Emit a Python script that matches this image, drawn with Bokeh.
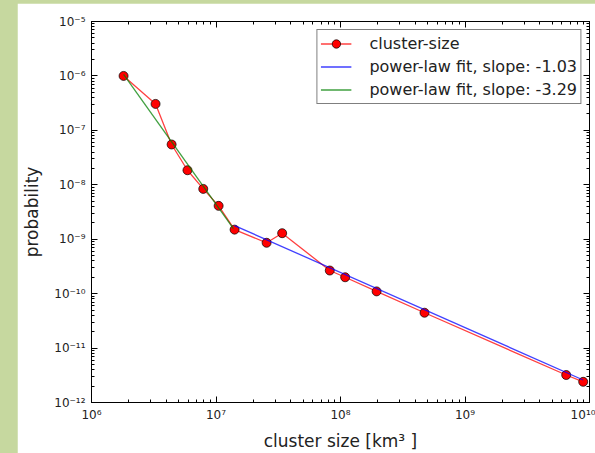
from bokeh.plotting import figure
from bokeh.models import LogAxis, FixedTicker, CustomJSTickFormatter, Range1d
from bokeh.layouts import column
from bokeh.embed import file_html
from bokeh.resources import INLINE

# ---- data ----
cluster_size = [1.81e6, 3.27e6, 4.4e6, 5.9e6, 7.9e6, 1.05e7, 1.41e7, 2.55e7, 3.4e7,
                8.2e7, 1.09e8, 1.95e8, 4.73e8, 6.5e9, 8.9e9]
probability = [1.0e-6, 3.06e-7, 5.5e-8, 1.85e-8, 8.4e-9, 4.1e-9, 1.5e-9, 8.6e-10, 1.29e-9,
               2.66e-10, 2.0e-10, 1.1e-10, 4.46e-11, 3.2e-12, 2.4e-12]
fit_steep_x = [1.81e6, 1.38e7]
fit_steep_y = [1.07e-6, 1.57e-9]
fit_flat_x = [1.41e7, 8.9e9]
fit_flat_y = [1.78e-9, 2.59e-12]

series_labels = ["cluster-size", "power-law fit, slope: -1.03", "power-law fit, slope: -3.29"]
x_tick_values = [1e6, 1e7, 1e8, 1e9, 1e10]
x_tick_labels = ["10⁶", "10⁷", "10⁸", "10⁹", "10¹⁰"]
y_tick_values = [1e-12, 1e-11, 1e-10, 1e-9, 1e-8, 1e-7, 1e-6, 1e-5]
y_tick_labels = ["10⁻¹²", "10⁻¹¹", "10⁻¹⁰", "10⁻⁹", "10⁻⁸", "10⁻⁷", "10⁻⁶", "10⁻⁵"]
x_label = "cluster size [km³ ]"
y_label = "probability"

FONT = "DejaVu Sans"


def minor_of(majors):
    out = []
    for m in majors[:-1]:
        out += [m * k for k in range(2, 10)]
    return out


def fmt(values, labels):
    return CustomJSTickFormatter(args=dict(values=values, labels=labels), code="""
        let best = 0, bd = 1e9;
        for (let i = 0; i < values.length; i++) {
            const d = Math.abs(Math.log10(tick) - Math.log10(values[i]));
            if (d < bd) { bd = d; best = i; }
        }
        return labels[best];
    """)


blank_fmt = CustomJSTickFormatter(code="return ' ';")

p = figure(x_axis_type="log", y_axis_type="log",
           x_range=Range1d(1e6, 1e10), y_range=Range1d(1e-12, 1e-5),
           width=578, height=450,
           min_border_left=74, min_border_right=6, min_border_top=18, min_border_bottom=47,
           output_backend="svg", toolbar_location=None, margin=(3, 0, 0, 17))

p.grid.visible = False
p.outline_line_color = "black"
p.background_fill_color = "white"
p.border_fill_color = "white"

xt = FixedTicker(ticks=x_tick_values, minor_ticks=minor_of(x_tick_values))
yt = FixedTicker(ticks=y_tick_values, minor_ticks=minor_of(y_tick_values))

p.xaxis.ticker = xt
p.yaxis.ticker = yt
p.xaxis.formatter = fmt(x_tick_values, x_tick_labels)
p.yaxis.formatter = fmt(y_tick_values, y_tick_labels)

for ax in [p.xaxis[0], p.yaxis[0]]:
    ax.major_tick_in = 6
    ax.major_tick_out = 0
    ax.minor_tick_in = 3
    ax.minor_tick_out = 0
    ax.axis_line_color = "black"
    ax.major_tick_line_color = "black"
    ax.minor_tick_line_color = "black"
    ax.major_label_text_font = FONT
    ax.major_label_text_font_size = "12px"
    ax.major_label_text_color = "#222222"
    ax.axis_label_text_font = FONT
    ax.axis_label_text_font_size = "17px"
    ax.axis_label_text_font_style = "normal"
    ax.axis_label_text_color = "#222222"

p.xaxis.axis_label = x_label
p.yaxis.axis_label = y_label
p.xaxis.major_label_standoff = 5
p.yaxis.major_label_standoff = 6
p.xaxis.axis_label_standoff = 6
p.yaxis.axis_label_standoff = 9

for loc, tk in [("above", xt), ("right", yt)]:
    ax = LogAxis(ticker=tk, formatter=blank_fmt,
                 major_tick_in=6, major_tick_out=0, minor_tick_in=3, minor_tick_out=0,
                 major_label_text_font_size="1px", major_label_standoff=0,
                 axis_line_color="black", major_tick_line_color="black",
                 minor_tick_line_color="black")
    p.add_layout(ax, loc)

# data
p.line(cluster_size, probability, line_color="red", line_width=1.3, line_alpha=0.75,
       legend_label=series_labels[0])
p.scatter(cluster_size, probability, size=9, fill_color="red", line_color="black",
          line_width=1, line_alpha=0.7, legend_label=series_labels[0])
p.line(fit_flat_x, fit_flat_y, line_color="blue", line_width=1.3, line_alpha=0.75,
       legend_label=series_labels[1])
p.line(fit_steep_x, fit_steep_y, line_color="green", line_width=1.3, line_alpha=0.75,
       legend_label=series_labels[2])

lg = p.legend[0]
lg.location = "top_right"
lg.margin = 8
lg.padding = 3
lg.spacing = 2
lg.label_height = 21
lg.glyph_width = 31
lg.glyph_height = 21
lg.label_standoff = 18
lg.label_text_font = FONT
lg.label_text_font_size = "16px"
lg.label_text_color = "#222222"
lg.border_line_color = "black"
lg.border_line_width = 1
lg.background_fill_alpha = 1.0

layout = column(p, styles={"background-color": "#c6d89f"}, width=595, height=453)

open("out.html", "w").write(file_html(layout, INLINE))
